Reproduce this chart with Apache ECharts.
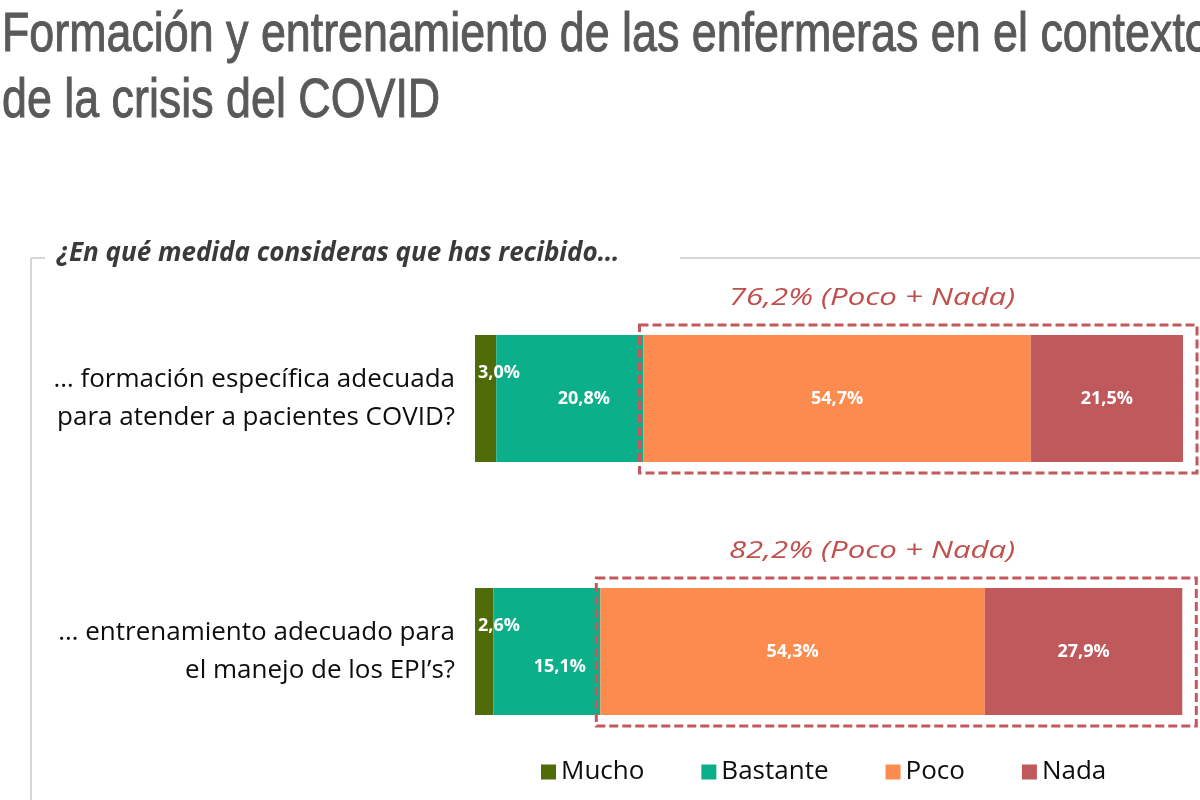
<!DOCTYPE html>
<html><head><meta charset="utf-8">
<script src="https://cdn.jsdelivr.net/npm/echarts@6/dist/echarts.min.js"></script>
<style>html,body{margin:0;padding:0;background:#fff}#c{width:1200px;height:800px}</style>
</head><body><div id="c"></div>
<script>
// ---- data ----
const titleLines = ['Formación y entrenamiento de las enfermeras en el contexto', 'de la crisis del COVID'];
const subtitle = '¿En qué medida consideras que has recibido…';
const categories = ['… formación específica adecuada\npara atender a pacientes COVID?', '… entrenamiento adecuado para\nel manejo de los EPI’s?'];
const seriesNames = ['Mucho', 'Bastante', 'Poco', 'Nada'];
const mucho = [3.0, 2.6];
const bastante = [20.8, 15.1];
const poco = [54.7, 54.3];
const nada = [21.5, 27.9];
const groupNote = '(Poco + Nada)';

// ---- styles ----
const colors = ['#4e6b08', '#0bb08a', '#fc8b4f', '#c0595b'];
const boxColor = '#c4585c';
const BAR_W = 127;
const fmt = v => v.toFixed(1).replace('.', ',') + '%';
const lblStyle = { show: true, color: '#fff', fontFamily: 'Open Sans', fontWeight: 'bold', fontSize: 18, formatter: p => fmt(p.value) };

const chart = echarts.init(document.getElementById('c'), null, { renderer: 'canvas' });

const bastanteOffsets = [[14, 0], [13, 15]];

const option = {
  animation: false,
  color: colors,
  grid: { left: 475, right: 17, top: 272, bottom: 22 },
  xAxis: { type: 'value', min: 0, max: 100, show: false },
  yAxis: {
    type: 'category', data: categories, inverse: true,
    axisLine: { show: false }, axisTick: { show: false }, splitLine: { show: false },
    axisLabel: { margin: 20, align: 'right', color: '#0d0d0d', fontFamily: 'Open Sans', fontSize: 26, lineHeight: 38 }
  },
  legend: {
    data: seriesNames, top: 754, left: 536, itemWidth: 15, itemHeight: 15, itemGap: 57,
    icon: 'rect', selectedMode: false,
    textStyle: { color: '#0d0d0d', fontFamily: 'Open Sans', fontSize: 26 }
  },
  series: [
    { name: seriesNames[0], type: 'bar', stack: 's', barWidth: BAR_W, data: mucho,
      label: Object.assign({}, lblStyle, { position: [3, 38], align: 'left', verticalAlign: 'middle' }) },
    { name: seriesNames[1], type: 'bar', stack: 's', barWidth: BAR_W,
      data: bastante.map((v, i) => ({ value: v, label: { offset: bastanteOffsets[i] } })),
      label: Object.assign({}, lblStyle, { position: 'inside' }) },
    { name: seriesNames[2], type: 'bar', stack: 's', barWidth: BAR_W, data: poco,
      label: Object.assign({}, lblStyle, { position: 'inside' }) },
    { name: seriesNames[3], type: 'bar', stack: 's', barWidth: BAR_W, data: nada,
      label: Object.assign({}, lblStyle, { position: 'inside' }) },
    { name: 'grupo', type: 'custom', z: 10, silent: true, clip: false,
      data: categories.map((c, i) => [mucho[i] + bastante[i], mucho[i] + bastante[i] + poco[i] + nada[i], i, poco[i] + nada[i]]),
      encode: { x: [0, 1], y: 2 },
      renderItem: (params, api) => {
        const a = api.coord([api.value(0), api.value(2)]);
        const b = api.coord([api.value(1), api.value(2)]);
        const x1 = a[0] - 4, x2 = b[0] + 14;
        const top = a[1] - BAR_W / 2 - 10, bottom = a[1] + BAR_W / 2 + 11;
        return {
          type: 'group',
          children: [
            { type: 'rect', shape: { x: x1, y: top, width: x2 - x1, height: bottom - top },
              style: { fill: 'none', stroke: boxColor, lineWidth: 3, lineDash: [9, 4] } },
            { type: 'text', x: 872, y: top - 27, scaleX: 1.3,
              style: { text: fmt(api.value(3)) + ' ' + groupNote, fill: '#c0504d', font: 'italic 24px "Open Sans"', align: 'center', verticalAlign: 'middle' } }
          ]
        };
      }
    }
  ],
  graphic: [
    { type: 'text', x: 2, y: 36, scaleX: 0.80, style: { text: titleLines[0], fill: '#595959', stroke: '#595959', lineWidth: 1, font: '56px "Liberation Sans"', verticalAlign: 'middle' } },
    { type: 'text', x: 2, y: 102, scaleX: 0.80, style: { text: titleLines[1], fill: '#595959', stroke: '#595959', lineWidth: 1, font: '56px "Liberation Sans"', verticalAlign: 'middle' } },
    { type: 'text', x: 57, y: 254, style: { text: subtitle, fill: '#3a3a3a', font: 'italic bold 26px "Open Sans"', verticalAlign: 'middle' } },
    { type: 'line', shape: { x1: 31, y1: 258, x2: 31, y2: 800 }, style: { stroke: '#c8c8c8', lineWidth: 1.5 } },
    { type: 'line', shape: { x1: 31, y1: 258, x2: 45, y2: 258 }, style: { stroke: '#c8c8c8', lineWidth: 1.5 } },
    { type: 'line', shape: { x1: 680, y1: 258, x2: 1200, y2: 258 }, style: { stroke: '#c8c8c8', lineWidth: 1.5 } }
  ]
};
chart.setOption(option);
</script></body></html>
